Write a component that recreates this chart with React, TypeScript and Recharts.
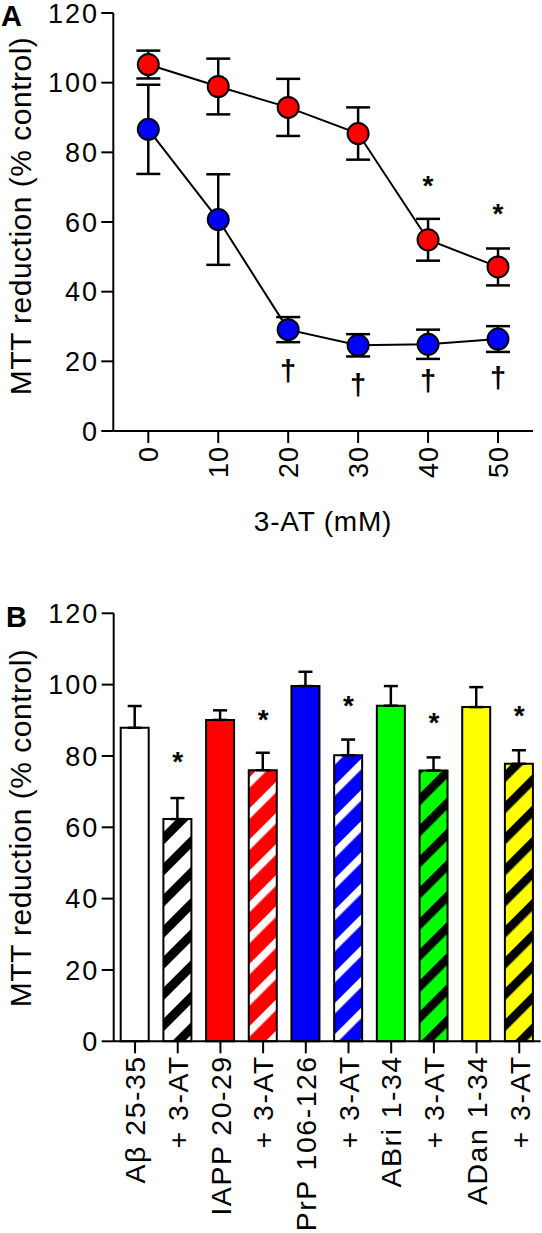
import React from 'react';
import { ComposedChart, Line, Bar, XAxis, YAxis, ErrorBar, Cell } from 'recharts';

const FONT = '"Liberation Sans", Arial, Helvetica, sans-serif';

// ---------- Panel A data ----------
const doses = ['0', '10', '20', '30', '40', '50'];
const redMean = [105.2, 98.9, 92.9, 85.4, 54.9, 47.1];
const redErr = [4.0, 8.0, 8.2, 7.5, 6.0, 5.3];
const blueMean = [86.6, 60.7, 29.1, 24.6, 24.9, 26.4];
const blueErr = [12.8, 13.0, 3.6, 3.2, 4.2, 3.7];
const starA = [null, null, null, null, 72.5, 64.4];
const daggerA = [null, null, 16.6, 12.7, 13.7, 14.6];
const yTicks = [0, 20, 40, 60, 80, 100, 120];

// ---------- Panel B data ----------
const peptideLabels = ['Aβ 25-35', '+ 3-AT', 'IAPP 20-29', '+ 3-AT', 'PrP 106-126', '+ 3-AT', 'ABri 1-34', '+ 3-AT', 'ADan 1-34', '+ 3-AT'];
const barValues = [87.9, 62.3, 90.1, 76.0, 99.6, 80.2, 94.1, 75.9, 93.7, 77.8];
const barErrs = [6.1, 5.9, 2.7, 4.9, 4.0, 4.4, 5.5, 3.7, 5.6, 3.8];
const starB = [null, 80.4, null, 92.4, null, 96.3, null, 91.5, null, 93.3];

// style (not data)
const barFills = ['#ffffff', 'url(#hatchBW)', '#ff0000', 'url(#hatchRW)', '#0000ff', 'url(#hatchBlW)', '#00ff00', 'url(#hatchGK)', '#ffff00', 'url(#hatchYK)'];

const dataA = doses.map((d, i) => ({
  dose: d,
  red: redMean[i],
  redErr: redErr[i],
  blue: blueMean[i],
  blueErr: blueErr[i],
  star: starA[i],
  dagger: daggerA[i],
}));

const dataB = peptideLabels.map((l, i) => ({
  idx: i,
  value: barValues[i],
  err: [0, barErrs[i]],
  star: starB[i],
}));

const P = 22;
const Hatch = ({ id, bg, fg, w }: any) => (
  <pattern id={id} patternUnits="userSpaceOnUse" width={P} height={P} patternTransform="rotate(45)">
    <rect x={0} y={0} width={P} height={P} fill={bg} />
    <rect x={0} y={0} width={w} height={P} fill={fg} />
  </pattern>
);

const YTick = (props: any) => {
  const { x, y, payload } = props;
  return (
    <text x={x - 2.3} y={y + 9.6} textAnchor="end" fontSize={27} letterSpacing={2} fontFamily={FONT} fill="#000">
      {payload.value}
    </text>
  );
};

const XTickA = (props: any) => {
  const { x, y, payload } = props;
  const fs = 27;
  const ls = 1;
  return (
    <text transform={`translate(${x + 0.36 * fs}, ${y + 4 - ls}) rotate(-90)`} textAnchor="end" fontSize={fs} letterSpacing={ls} fontFamily={FONT} fill="#000">
      {payload.value}
    </text>
  );
};

const XTickB = (props: any) => {
  const { x, y, payload } = props;
  const fs = 28.5;
  const ls = 1.5;
  return (
    <text transform={`translate(${x + 0.36 * fs}, ${y + 3.5 - ls}) rotate(-90)`} textAnchor="end" fontSize={fs} letterSpacing={ls} fontFamily={FONT} fill="#000">
      {peptideLabels[payload.value]}
    </text>
  );
};

const markDot = (symbol: string, fs: number, dyf: number, weight: string) => (props: any) => {
  const { cx, cy, index, value } = props;
  if (value == null || cy == null || isNaN(cy)) return <g key={`m${symbol}${index}`} />;
  return (
    <text key={`m${symbol}${index}`} x={cx} y={cy + dyf * fs} textAnchor="middle" fontSize={fs} fontWeight={weight} fontFamily={FONT} fill="#000">
      {symbol}
    </text>
  );
};

const yTitle = (cy: number) => () => (
  <text transform={`translate(31, ${cy}) rotate(-90)`} textAnchor="middle" fontSize={30} letterSpacing={0.5} fontFamily={FONT} fill="#000">
    MTT reduction (% control)
  </text>
);

const axisStyle = { stroke: '#000', strokeWidth: 2 };

export default function App() {
  return (
    <div style={{ position: 'absolute', left: 0, top: 0, width: 542, height: 1233, background: '#fff', overflow: 'hidden' }}>
      <svg width={0} height={0} style={{ position: 'absolute' }}>
        <defs>
          <Hatch id="hatchBW" bg="#ffffff" fg="#000000" w={9} />
          <Hatch id="hatchRW" bg="#ff0000" fg="#ffffff" w={7.5} />
          <Hatch id="hatchBlW" bg="#0000ff" fg="#ffffff" w={7.5} />
          <Hatch id="hatchGK" bg="#00ff00" fg="#000000" w={8.5} />
          <Hatch id="hatchYK" bg="#ffff00" fg="#000000" w={8.5} />
        </defs>
      </svg>

      <div style={{ position: 'absolute', left: 1, top: 0, fontFamily: FONT, fontWeight: 'bold', fontSize: 29, lineHeight: '33px' }}>A</div>
      <div style={{ position: 'absolute', left: 6, top: 601, fontFamily: FONT, fontWeight: 'bold', fontSize: 29, lineHeight: '33px' }}>B</div>

      <div style={{ position: 'absolute', left: 0, top: 0 }}>
        <ComposedChart width={542} height={545} data={dataA} margin={{ top: 13, right: 9, left: 0, bottom: 0 }}>
          <XAxis
            dataKey="dose"
            type="category"
            scale="point"
            padding={{ left: 35, right: 35 }}
            interval={0}
            height={114}
            tick={<XTickA />}
            tickSize={12}
            tickMargin={0}
            axisLine={axisStyle}
            tickLine={axisStyle}
            label={{
              content: () => (
                <text x={323} y={531} textAnchor="middle" fontSize={28} letterSpacing={0.8} fontFamily={FONT} fill="#000">
                  3-AT (mM)
                </text>
              ),
            }}
          />
          <YAxis
            domain={[0, 120]}
            ticks={yTicks}
            interval={0}
            width={113.3}
            tick={<YTick />}
            tickSize={12}
            tickMargin={0}
            axisLine={axisStyle}
            tickLine={axisStyle}
            label={{ content: yTitle(216) }}
          />
          <Line
            dataKey="blue"
            stroke="#000"
            strokeWidth={2}
            dot={{ r: 10.5, fill: '#0000ff', stroke: '#000', strokeWidth: 2 }}
            activeDot={false}
            isAnimationActive={false}
          >
            <ErrorBar dataKey="blueErr" width={12} stroke="#000" strokeWidth={2.5} direction="y" isAnimationActive={false} />
          </Line>
          <Line
            dataKey="red"
            stroke="#000"
            strokeWidth={2}
            dot={{ r: 10.5, fill: '#ff0000', stroke: '#000', strokeWidth: 2 }}
            activeDot={false}
            isAnimationActive={false}
          >
            <ErrorBar dataKey="redErr" width={12} stroke="#000" strokeWidth={2.5} direction="y" isAnimationActive={false} />
          </Line>
          <Line dataKey="star" stroke="none" dot={markDot('*', 28, 0.6, 'bold')} activeDot={false} isAnimationActive={false} />
          <Line dataKey="dagger" stroke="none" dot={markDot('†', 29, 0.28, 'bold')} activeDot={false} isAnimationActive={false} />
        </ComposedChart>
      </div>

      <div style={{ position: 'absolute', left: 0, top: 560 }}>
        <ComposedChart width={542} height={673} data={dataB} margin={{ top: 53.3, right: 1.4, left: 0, bottom: 0 }}>
          <XAxis
            dataKey="idx"
            type="category"
            interval={0}
            height={191.7}
            tick={<XTickB />}
            tickSize={12}
            tickMargin={0}
            axisLine={axisStyle}
            tickLine={axisStyle}
          />
          <YAxis
            domain={[0, 120]}
            ticks={yTicks}
            interval={0}
            width={113.7}
            tick={<YTick />}
            tickSize={12}
            tickMargin={0}
            axisLine={axisStyle}
            tickLine={axisStyle}
            label={{ content: yTitle(828 - 560) }}
          />
          <Bar dataKey="value" barSize={28} stroke="#000" strokeWidth={2} isAnimationActive={false}>
            {dataB.map((d, i) => (
              <Cell key={`c${i}`} fill={barFills[i]} stroke="#000" strokeWidth={2} />
            ))}
            <ErrorBar dataKey="err" width={7} stroke="#000" strokeWidth={2.5} direction="y" isAnimationActive={false} />
          </Bar>
          <Line dataKey="star" stroke="none" dot={markDot('*', 28, 0.6, 'bold')} activeDot={false} isAnimationActive={false} />
        </ComposedChart>
      </div>
    </div>
  );
}
